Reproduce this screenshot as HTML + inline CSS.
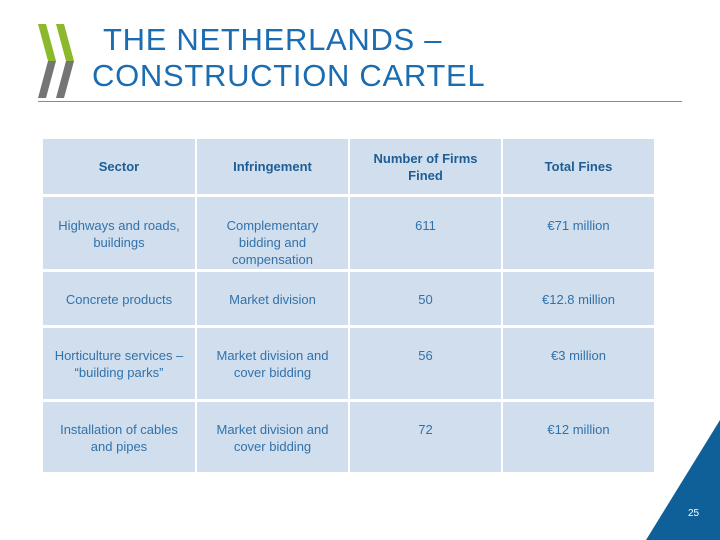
<!DOCTYPE html>
<html><head><meta charset="utf-8"><style>
body{margin:0;width:720px;height:540px;background:#fff;position:relative;overflow:hidden;font-family:"Liberation Sans",sans-serif}
.t{position:absolute;color:#1b6cb0;font-size:31px;letter-spacing:0.7px}
.c{position:absolute;background:#d0deed;display:flex;justify-content:center;text-align:center;font-size:13px;color:#3272aa;line-height:17px;box-sizing:border-box;padding:0 6px}
.h{font-weight:bold;color:#1f5d94;align-items:center}
.b{align-items:flex-start;padding-top:20px}
</style></head><body>
<svg style="position:absolute;left:38px;top:24px" width="38" height="74" viewBox="0 0 38 74">
<polygon points="0,0 8,0 18,37 10,37" fill="#8cb82b"/>
<polygon points="10,37 18,37 8,74 0,74" fill="#757575"/>
<polygon points="18,0 26,0 36,37 28,37" fill="#8cb82b"/>
<polygon points="28,37 36,37 26,74 18,74" fill="#757575"/>
</svg>
<div class="t" style="left:103px;top:22px">THE NETHERLANDS –</div>
<div class="t" style="left:92px;top:58px">CONSTRUCTION CARTEL</div>
<div style="position:absolute;left:38px;top:101px;width:644px;height:1px;background:#8a8a8a"></div>

<div>
<div class="c h" style="left:43px;top:139px;width:152px;height:55px">Sector</div>
<div class="c h" style="left:197px;top:139px;width:151px;height:55px">Infringement</div>
<div class="c h" style="left:350px;top:139px;width:151px;height:55px">Number of Firms<br>Fined</div>
<div class="c h" style="left:503px;top:139px;width:151px;height:55px">Total Fines</div>

<div class="c b" style="left:43px;top:197px;width:152px;height:72px;padding-top:20px">Highways and roads,<br>buildings</div>
<div class="c b" style="left:197px;top:197px;width:151px;height:72px;padding-top:20px">Complementary<br>bidding and<br>compensation</div>
<div class="c b" style="left:350px;top:197px;width:151px;height:72px;padding-top:20px">611</div>
<div class="c b" style="left:503px;top:197px;width:151px;height:72px;padding-top:20px">€71 million</div>

<div class="c b" style="left:43px;top:272px;width:152px;height:53px;padding-top:19px">Concrete products</div>
<div class="c b" style="left:197px;top:272px;width:151px;height:53px;padding-top:19px">Market division</div>
<div class="c b" style="left:350px;top:272px;width:151px;height:53px;padding-top:19px">50</div>
<div class="c b" style="left:503px;top:272px;width:151px;height:53px;padding-top:19px">€12.8 million</div>

<div class="c b" style="left:43px;top:328px;width:152px;height:71px;padding-top:19px">Horticulture services –<br>“building parks”</div>
<div class="c b" style="left:197px;top:328px;width:151px;height:71px;padding-top:19px">Market division and<br>cover bidding</div>
<div class="c b" style="left:350px;top:328px;width:151px;height:71px;padding-top:19px">56</div>
<div class="c b" style="left:503px;top:328px;width:151px;height:71px;padding-top:19px">€3 million</div>

<div class="c b" style="left:43px;top:402px;width:152px;height:70px;padding-top:19px">Installation of cables<br>and pipes</div>
<div class="c b" style="left:197px;top:402px;width:151px;height:70px;padding-top:19px">Market division and<br>cover bidding</div>
<div class="c b" style="left:350px;top:402px;width:151px;height:70px;padding-top:19px">72</div>
<div class="c b" style="left:503px;top:402px;width:151px;height:70px;padding-top:19px">€12 million</div>
</div>

<svg style="position:absolute;left:0;top:0" width="720" height="540">
<polygon points="720,420 720,540 646,540" fill="#0f5f99"/>
</svg>
<div style="position:absolute;left:688px;top:508px;font-size:10px;color:#fff">25</div>
</body></html>
